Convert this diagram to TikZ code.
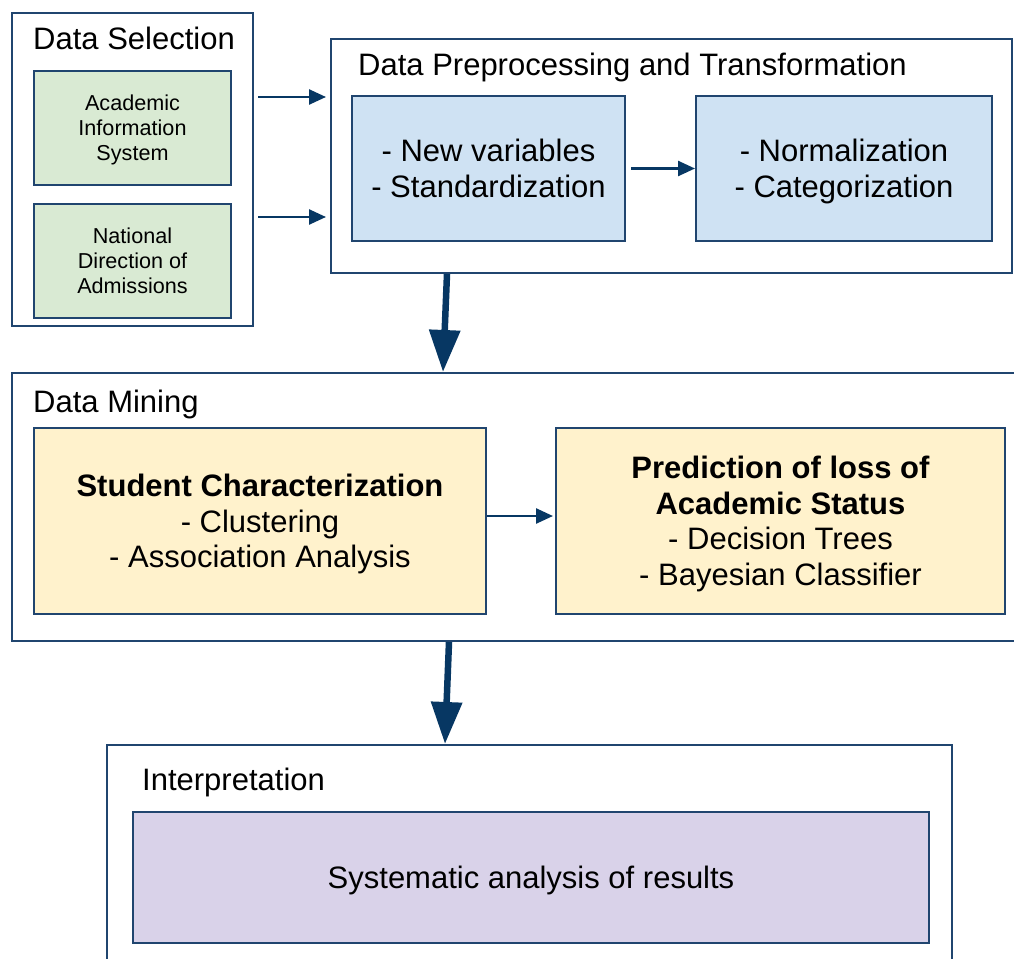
\documentclass[tikz,border=0pt]{standalone}
\usepackage{fontspec}
\setmainfont{Liberation Sans}
\usepackage{tikz}
\usetikzlibrary{arrows.meta}
\definecolor{edgeblue}{HTML}{20456F}
\definecolor{arrowblue}{HTML}{073763}
\definecolor{fillgreen}{HTML}{D9EAD3}
\definecolor{fillblue}{HTML}{CFE2F3}
\definecolor{fillyellow}{HTML}{FFF2CC}
\definecolor{fillpurple}{HTML}{D9D2E9}

\begin{document}
\begin{tikzpicture}[x=1pt, y=-1pt,
  stage/.style={draw=edgeblue, line width=2pt, rectangle},
  task/.style={draw=edgeblue, line width=2pt, rectangle, align=center, inner sep=0pt,
    text depth=0pt, font=\fontsize{31}{35.5}\selectfont},
  source/.style={task, fill=fillgreen, minimum width=197pt, minimum height=114pt,
    font=\fontsize{21.6}{25}\selectfont},
  title/.style={anchor=base west, inner sep=0pt, font=\fontsize{31}{35.5}\selectfont},
  paths/.style={-{Triangle[length=17pt, width=15pt]}, line width=2.5pt, draw=arrowblue},
  flow/.style={-{Triangle[length=42pt, width=30pt]}, line width=6.5pt, draw=arrowblue}]

 \path [use as bounding box, clip] (0,0) rectangle (1014,958);


 \node [stage, minimum width=241pt, minimum height=313pt] (data_selection) at (132.5,169.5) {};

 \node [title] (title_selection) at (33,50) {Data Selection};

 \node [source] (source_academic) at (132.5,128)
     {Academic\\Information\\System};

 \node [source] (source_admissions) at (132.5,261)
     {National\\Direction of\\Admissions};


 \node [stage, minimum width=681pt, minimum height=234pt] (preprocessing) at (671.5,156) {};

 \node [title] (title_preprocessing) at (358,75) {Data Preprocessing and Transformation};

 \node [task, fill=fillblue, minimum width=273pt, minimum height=145pt] (new_variables) at (488.5,168.5)
     {- New variables\\- Standardization};

 \node [task, fill=fillblue, minimum width=296pt, minimum height=145pt] (normalization) at (844,168.5)
     {- Normalization\\- Categorization};


 \node [stage, minimum width=1040pt, minimum height=268pt] (mining) at (532,507) {};

 \node [title] (title_mining) at (33,412) {Data Mining};

 \node [task, fill=fillyellow, minimum width=452pt, minimum height=186pt] (characterization) at (260,521)
     {\textbf{Student Characterization}\\- Clustering\\- Association Analysis};

 \node [task, fill=fillyellow, minimum width=449pt, minimum height=186pt] (prediction) at (780.5,521)
     {\textbf{Prediction of loss of}\\\textbf{Academic Status}\\- Decision Trees\\- Bayesian Classifier};


 \node [stage, minimum width=845pt, minimum height=260pt] (interpretation) at (529.5,875) {};

 \node [title] (title_interpretation) at (142,790) {Interpretation};

 \node [task, fill=fillpurple, minimum width=796pt, minimum height=131pt] (results) at (531,877.5)
     {Systematic analysis of results};



 \coordinate (input_academic) at (258,97);
 \coordinate (input_admissions) at (258,217);

 \draw [paths, shorten >=4pt] (input_academic) -- (input_academic -| preprocessing.west);
 \draw [paths, shorten >=4pt] (input_admissions) -- (input_admissions -| preprocessing.west);
 \draw [paths, shorten <=5pt] (new_variables.east) -- (normalization.west);
 \draw [paths, shorten >=2pt] ([yshift=5pt]characterization.east) -- ([yshift=5pt]prediction.west);

 \draw [flow] ([xshift=-224.5pt]preprocessing.south) -- ([xshift=-89pt]mining.north);
 \draw [flow] ([xshift=-83pt]mining.south) -- ([xshift=-84.5pt]interpretation.north);


 \end{tikzpicture}
\end{document}
